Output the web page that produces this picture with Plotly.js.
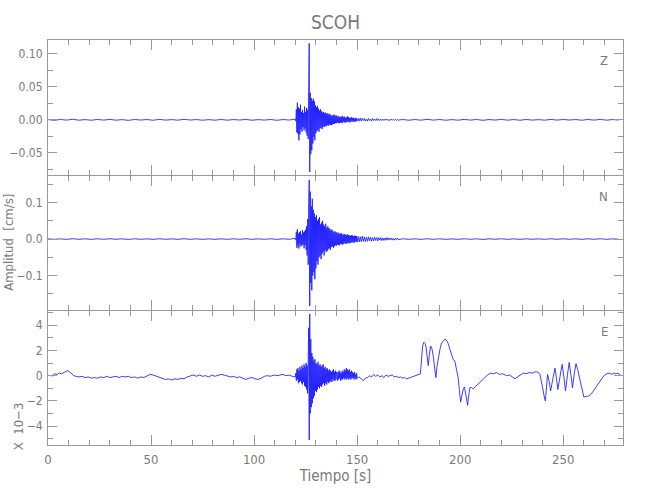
<!DOCTYPE html>
<html>
<head>
<meta charset="utf-8">
<script src="https://cdn.plot.ly/plotly-3.0.1.min.js"></script>
<style>html,body{margin:0;padding:0;background:#fff;}#chart{width:650px;height:500px;}</style>
</head>
<body>
<div id="chart"></div>
<script>
// ---------------- DATA ----------------
const stationName = 'SCOH';
const componentLabels = ['Z', 'N', 'E'];
const xTickValues = [0, 50, 100, 150, 200, 250];

// Z component (cm/s)
const zPreStart = 0, zPreStep = 3;
const zPre = [0.0004,-0.0007,0.0005,-0.0004,0.0008,-0.0005,0.0003,-0.0006,0.0005,-0.0004,
  0.0006,-0.0005,0.0003,-0.0008,0.0005,-0.0003,0.0004,-0.0006,0.0006,-0.0004,
  0.0003,-0.0005,0.0007,-0.0003,0.0004,-0.0006,0.0003,-0.0005,0.0005,-0.0005,
  0.0004,-0.0003,0.0006,-0.0006,0.0003,-0.0004,0.0005,-0.0007,0.0004,-0.0003];
const zBurstStart = 120, zBurstStep = 0.25;
const zBurst = [0.001,-0.002,0.016,-0.019,0.026,-0.021,0.019,-0.031,0.017,-0.022,
  0.023,-0.014,0.012,-0.018,0.015,-0.011,0.010,-0.016,0.020,-0.013,
  0.012,-0.019,0.018,-0.024,0.015,-0.029,0.055,0.116,-0.079,0.041,
  -0.052,0.033,-0.046,0.029,-0.036,0.032,-0.026,0.028,-0.031,0.022,
  -0.020,0.019,-0.017,0.021,-0.015,0.017,-0.018,0.014,-0.013,0.016,
  -0.012,0.013,-0.014,0.011,-0.010,0.012,-0.011,0.010,-0.009,0.011,
  -0.010,0.009,-0.008,0.010,-0.009,0.008,-0.007,0.009,-0.008,0.007,
  -0.008,0.006,-0.007,0.007,-0.006,0.008,-0.006,0.006,-0.005,0.007,
  -0.005,0.005,-0.004,0.006,-0.005,0.004,-0.005,0.005,-0.004,0.004,
  -0.005,0.006,-0.004,0.004,-0.003,0.005,-0.004,0.003,-0.004,0.004,
  -0.003,0.005,-0.003,0.004,-0.003,0.003,-0.004,0.003,-0.002,0.004,
  -0.003,0.003,-0.002,0.003,-0.003,0.002,-0.003,0.003,-0.002,0.002,-0.002];
const zCodaStart = 150.5, zCodaStep = 0.5;
const zCoda = [0.002,-0.002,0.003,-0.002,0.002,-0.001,0.002,-0.002,0.001,-0.002,
  0.002,-0.001,0.001,-0.002,0.002,-0.001,0.001,-0.001,0.002,-0.001,
  0.001,-0.001,0.001,-0.001,0.001,-0.001,0.001,-0.0005,0.001,-0.001,
  0.0005,-0.001,0.001,-0.0005,0.0008,-0.0008,0.0006,-0.0006,0.0008,-0.0005];
const zPostStart = 172, zPostStep = 3;
const zPost = [0.0005,-0.0006,0.0004,-0.0005,0.0007,-0.0004,0.0005,-0.0006,0.0003,-0.0005,
  0.0006,-0.0004,0.0005,-0.0007,0.0004,-0.0003,0.0006,-0.0005,0.0004,-0.0006,
  0.0005,-0.0004,0.0003,-0.0005,0.0006,-0.0004,0.0005,-0.0003,0.0004,-0.0006,
  0.0005,-0.0004,0.0006,-0.0005,0.0004,-0.0003];

// N component (cm/s)
const nPreStart = 0, nPreStep = 3;
const nPre = [0.0006,-0.0008,0.0005,-0.0007,0.0009,-0.0005,0.0006,-0.0008,0.0007,-0.0006,
  0.0008,-0.0005,0.0006,-0.0009,0.0007,-0.0005,0.0006,-0.0007,0.0008,-0.0006,
  0.0005,-0.0007,0.0009,-0.0006,0.0006,-0.0008,0.0005,-0.0007,0.0007,-0.0006,
  0.0006,-0.0005,0.0008,-0.0007,0.0005,-0.0006,0.0007,-0.0008,0.0006,-0.0005];
const nBurstStart = 120, nBurstStep = 0.25;
const nBurst = [0.002,-0.003,0.020,-0.024,0.027,-0.018,0.015,-0.026,0.019,-0.014,
  0.022,-0.020,0.012,-0.017,0.024,-0.015,0.018,-0.025,0.021,-0.016,
  0.026,-0.030,0.035,-0.045,0.055,-0.070,0.100,0.162,-0.183,0.130,
  -0.120,0.090,-0.140,0.110,-0.100,0.080,-0.090,0.070,-0.110,0.060,
  -0.080,0.065,-0.060,0.050,-0.070,0.055,-0.050,0.060,-0.045,0.040,
  -0.055,0.045,-0.040,0.050,-0.035,0.040,-0.045,0.035,-0.030,0.042,
  -0.035,0.030,-0.032,0.035,-0.028,0.030,-0.025,0.028,-0.030,0.024,
  -0.022,0.026,-0.020,0.022,-0.024,0.018,-0.020,0.021,-0.017,0.019,
  -0.018,0.016,-0.015,0.018,-0.016,0.014,-0.017,0.015,-0.013,0.016,
  -0.014,0.013,-0.015,0.012,-0.013,0.014,-0.011,0.012,-0.013,0.011,
  -0.012,0.013,-0.010,0.011,-0.012,0.010,-0.011,0.009,-0.010,0.011,
  -0.009,0.010,-0.009,0.008,-0.010,0.009,-0.008,0.009,-0.007,0.008,-0.008];
const nCodaStart = 150.5, nCodaStep = 0.5;
const nCoda = [0.007,-0.008,0.006,-0.007,0.008,-0.006,0.006,-0.007,0.005,-0.006,
  0.006,-0.005,0.005,-0.006,0.004,-0.005,0.005,-0.004,0.004,-0.005,
  0.004,-0.003,0.004,-0.004,0.003,-0.004,0.003,-0.003,0.004,-0.003,
  0.003,-0.002,0.003,-0.003,0.002,-0.003,0.002,-0.002,0.003,-0.002];
const nPostStart = 172, nPostStep = 3;
const nPost = [0.0008,-0.0007,0.0006,-0.0008,0.0009,-0.0006,0.0007,-0.0008,0.0005,-0.0007,
  0.0008,-0.0006,0.0007,-0.0009,0.0006,-0.0005,0.0008,-0.0007,0.0006,-0.0008,
  0.0007,-0.0006,0.0005,-0.0007,0.0008,-0.0006,0.0007,-0.0005,0.0006,-0.0008,
  0.0007,-0.0006,0.0008,-0.0007,0.0006,-0.0005];

// E component (x 10^-3 cm/s)
const ePreTime = [1.5,2.5,3.5,4.5,5.5,6.5,7.5,8.5,9.5,10.5,11.5,12.5,13.5,15,16.5,18,19.5,21,22.5,24,
  25.5,27,28.5,30,31.5,33,34.5,36,37.5,39,40.5,42,43.5,45,46.5,48,49.5,51,52.5,54,
  55.5,57,58.5,60,61.5,63,64.5,66,67.5,69,70.5,72,73.5,75,76.5,78,79.5,81,82.5,84,
  85.5,87,88.5,90,91.5,93,94.5,96,97.5,99,100.5,102,103.5,105,106.5,108,109.5,111,112.5,114,
  115.5,117,118.5,119.5];
const ePreValue = [-0.05,0.05,0.15,0.1,0.2,0.15,0.25,0.3,0.4,0.3,0.15,0.0,-0.05,-0.1,-0.05,-0.15,-0.1,-0.2,-0.15,-0.2,
  -0.1,-0.15,-0.05,-0.15,-0.1,-0.05,-0.15,-0.05,-0.1,-0.05,-0.15,-0.1,-0.2,-0.1,-0.15,-0.05,0.1,0.05,-0.05,-0.1,
  -0.2,-0.3,-0.25,-0.35,-0.25,-0.3,-0.2,-0.25,-0.1,0.0,0.05,-0.05,0.05,-0.05,0.0,-0.1,0.05,-0.05,0.0,0.1,
  0.05,-0.05,-0.1,-0.05,-0.15,-0.1,-0.2,-0.3,-0.2,-0.15,-0.25,-0.3,-0.2,-0.05,0.0,-0.05,0.05,0.0,0.05,0.1,
  0.0,0.05,-0.05,-0.1];
const eBurstStart = 120, eBurstStep = 0.25;
const eBurst = [-0.1,0.2,-0.4,0.5,-0.3,0.6,-0.6,0.4,-0.5,0.7,
  -0.4,0.5,-0.6,0.8,-0.7,0.6,-0.5,0.9,-0.8,0.7,
  -0.9,1.0,-1.1,0.8,-1.4,1.2,3.8,-5.1,4.9,-3.0,
  2.9,-2.5,1.8,-2.2,1.5,-1.8,1.2,-1.6,1.3,-1.2,
  1.0,-1.3,0.9,-1.1,1.1,-0.9,0.8,-1.0,0.9,-0.8,
  0.7,-0.9,0.8,-0.7,0.9,-0.6,0.6,-0.8,0.7,-0.6,
  0.5,-0.7,0.6,-0.5,0.4,-0.6,0.5,-0.5,0.4,-0.4,
  0.3,-0.5,0.4,-0.3,0.5,-0.4,0.3,-0.4,0.4,-0.3,
  0.3,0.2,-0.4,0.3,-0.3,0.4,-0.2,0.3,-0.4,0.2,
  -0.3,0.4,-0.3,0.3,-0.2,0.5,-0.3,0.4,-0.2,0.6,
  -0.3,0.5,-0.2,0.4,-0.3,0.5,-0.2,0.3,-0.3,0.4,
  -0.2,0.3,-0.2,0.2,-0.3,0.3,-0.2,0.1,-0.3,0.2,-0.2];
const eTailTime = [151,152,153,154,155,156,157,158,159,160,161,162,163,164,165,166,167,168,169,170,
  171,172,173,174,175,176,177,178,179,180,180.7,181.2,181.8,182.4,183.0,183.4,184.0,184.5,185.0,185.6,
  186.2,186.9,187.6,188.2,188.8,189.4,190.2,191.0,191.8,192.6,193.4,194.2,195.0,195.8,196.6,197.4,198.2,199.0,199.6,200.2,
  200.8,201.5,202.1,202.6,203.1,203.6,204.1,204.7,205.5,206.3,207.5,208.5,209.6,211,212.4,213.6,215,216.2,217.6,219,
  220.6,222.5,224,225.5,226.6,227.8,229,230.6,232,233.5,235,236.2,237.1,238,238.7,239.4,240.0,240.7,241.3,241.9,
  242.4,243.1,243.9,244.9,246.0,246.7,247.4,248.4,249.5,250.3,251.1,252.0,252.9,253.7,254.5,255.4,256.2,257.0,257.8,258.8,
  260.0,261.2,262.6,263.6,264.6,266.2,267.8,269.5,271.0,272.5,273.5,274.5,275.5,276.5,277.5,278.4];
const eTailValue = [-0.1,-0.25,-0.4,-0.2,-0.15,0.0,-0.1,0.1,-0.05,0.05,-0.1,0.0,-0.15,0.05,-0.05,0.0,0.05,-0.1,-0.05,-0.15,
  -0.1,-0.2,-0.15,-0.25,-0.2,-0.15,-0.1,-0.05,0.0,0.1,0.15,1.2,2.4,2.65,2.55,2.3,1.4,0.8,1.6,2.35,
  2.2,1.6,0.6,-0.15,0.8,1.5,2.1,2.6,2.8,2.9,2.8,2.55,2.1,1.6,1.3,1.15,0.6,-0.15,-1.1,-2.1,
  -1.6,-1.05,-0.9,-1.3,-1.9,-2.35,-1.6,-0.95,-0.95,-1.05,-0.85,-0.7,-0.5,-0.3,-0.1,0.1,0.2,0.15,0.25,0.1,
  0.15,0.0,0.05,-0.1,-0.25,-0.1,0.05,0.2,0.15,0.25,0.2,0.3,0.3,0.25,0.1,-0.4,-0.95,-1.6,-2.0,-0.9,
  0.1,-0.4,-1.2,-0.3,0.6,-0.2,-1.1,-0.1,0.9,-0.1,-1.2,0.0,1.05,0.1,-0.95,0.2,0.95,0.5,-0.15,-1.0,
  -1.7,-1.65,-1.6,-1.45,-1.2,-0.8,-0.4,-0.05,0.15,0.2,0.1,0.2,0.15,0.2,0.05,0.0];

// ---------------- BUILD ----------------
function sampled(start, step, values) {
  return values.map((_, i) => +(start + i * step).toFixed(3));
}
function joinSegments(segs) {
  const x = [], y = [];
  segs.forEach(s => { x.push(...s[0]); y.push(...s[1]); });
  return {x, y};
}
const zData = joinSegments([
  [sampled(zPreStart, zPreStep, zPre), zPre],
  [sampled(zBurstStart, zBurstStep, zBurst), zBurst],
  [sampled(zCodaStart, zCodaStep, zCoda), zCoda],
  [sampled(zPostStart, zPostStep, zPost), zPost]]);
const nData = joinSegments([
  [sampled(nPreStart, nPreStep, nPre), nPre],
  [sampled(nBurstStart, nBurstStep, nBurst), nBurst],
  [sampled(nCodaStart, nCodaStep, nCoda), nCoda],
  [sampled(nPostStart, nPostStep, nPost), nPost]]);
const eData = joinSegments([
  [ePreTime, ePreValue],
  [sampled(eBurstStart, eBurstStep, eBurst), eBurst],
  [eTailTime, eTailValue]]);

const lineBlue = '#1a1aff';
const mk = (d, xa, ya, name) => ({
  x: d.x, y: d.y, xaxis: xa, yaxis: ya, name: name, type: 'scatter', mode: 'lines',
  line: {color: lineBlue, width: 0.85}, hoverinfo: 'x+y'
});
const traces = [mk(zData, 'x', 'y', 'Z'), mk(nData, 'x2', 'y2', 'N'), mk(eData, 'x3', 'y3', 'E')];

const FONT = 'DejaVu Sans Condensed, Liberation Sans Narrow, sans-serif';
const TXT = '#7a7a7a';
const AX = '#9a9a9a';
const f = (size) => ({family: FONT, size: size, color: TXT, stretch: 'condensed'});

function xAxis(anchor, labels) {
  return {
    anchor: anchor, domain: [0, 1], range: [0, 279], autorange: false,
    tickvals: xTickValues, ticks: 'inside', ticklen: 10, tickwidth: 1, tickcolor: AX,
    minor: {dtick: 10, tick0: 0, ticks: 'inside', ticklen: 5, tickcolor: AX, showgrid: false},
    showline: true, linecolor: AX, linewidth: 1, mirror: 'allticks',
    showgrid: false, zeroline: false, showticklabels: labels,
    tickfont: f(13),
    ticklabelstandoff: 2
  };
}
function yAxis(anchor, domain, range, dtick, minorDtick, fmt) {
  return {
    anchor: anchor, domain: domain, range: range, autorange: false,
    tick0: 0, dtick: dtick, tickformat: fmt,
    ticks: 'inside', ticklen: 9, tickwidth: 1, tickcolor: AX,
    minor: {dtick: minorDtick, tick0: 0, ticks: 'inside', ticklen: 5, tickcolor: AX, showgrid: false},
    showline: true, linecolor: AX, linewidth: 1, mirror: 'allticks',
    showgrid: false, zeroline: false,
    tickfont: f(12),
    ticklabelstandoff: 2
  };
}

const xa3 = xAxis('y3', true);
xa3.title = {text: 'Tiempo [s]', font: f(15), standoff: 3};

// shave one pixel so neighbouring panel borders coincide
const px = 1 / 405;
const layout = {
  width: 650, height: 500,
  margin: {l: 48, r: 27, t: 40, b: 55},
  paper_bgcolor: '#ffffff', plot_bgcolor: '#ffffff',
  showlegend: false,
  font: {family: FONT, color: TXT},
  title: {text: stationName, x: 0.5, xref: 'paper', xanchor: 'center', y: 0.955, yref: 'container', yanchor: 'middle',
    font: f(19)},
  xaxis: xAxis('y', false),
  xaxis2: xAxis('y2', false),
  xaxis3: xa3,
  yaxis: yAxis('x', [0.6667, 1], [-0.0836, 0.121], 0.05, 0.025, '.2f'),
  yaxis2: yAxis('x2', [0.3333, 0.6667 - px], [-0.194, 0.1725], 0.1, 0.05, '.1f'),
  yaxis3: yAxis('x3', [0, 0.3333 - px], [-5.5, 5.13], 2, 1, 'd'),
  annotations: [
    {text: componentLabels[0], xref: 'paper', yref: 'y domain', x: 0.978, y: 0.845, xanchor: 'right', yanchor: 'middle', showarrow: false, font: f(13)},
    {text: componentLabels[1], xref: 'paper', yref: 'y2 domain', x: 0.978, y: 0.845, xanchor: 'right', yanchor: 'middle', showarrow: false, font: f(13)},
    {text: componentLabels[2], xref: 'paper', yref: 'y3 domain', x: 0.978, y: 0.845, xanchor: 'right', yanchor: 'middle', showarrow: false, font: f(13)},
    {text: 'Amplitud  [cm/s]', xref: 'paper', yref: 'paper', x: -0.069, y: 0.5, xanchor: 'center', yanchor: 'middle', textangle: -90, showarrow: false, font: f(13)},
    {text: 'X  10\u22123', xref: 'paper', yref: 'paper', x: -0.05, y: 0.047, xanchor: 'center', yanchor: 'middle', textangle: -90, showarrow: false, font: f(13)}
  ]
};

Plotly.newPlot('chart', traces, layout, {displayModeBar: false, staticPlot: true});
</script>
</body>
</html>
